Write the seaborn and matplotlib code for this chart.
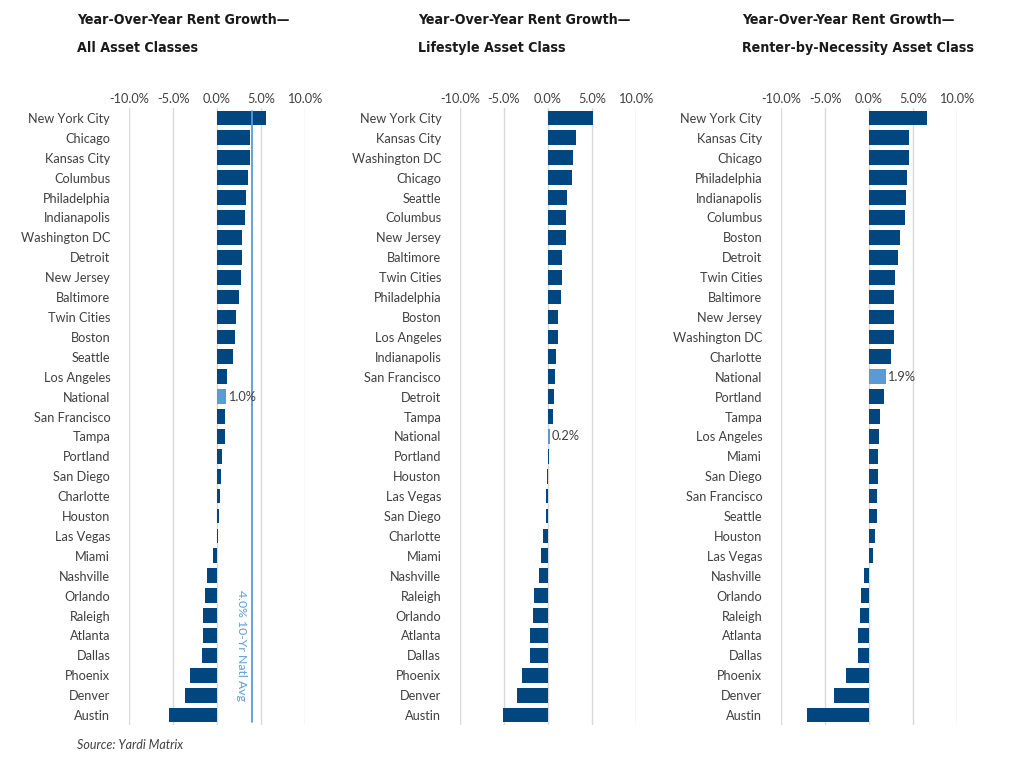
import numpy as np
import pandas as pd
import seaborn as sns
from matplotlib import pyplot as plt
from matplotlib import font_manager
from matplotlib.ticker import FuncFormatter

# ---- data (percent) ----
all_cities = ['New York City', 'Chicago', 'Kansas City', 'Columbus', 'Philadelphia',
              'Indianapolis', 'Washington DC', 'Detroit', 'New Jersey', 'Baltimore',
              'Twin Cities', 'Boston', 'Seattle', 'Los Angeles', 'National',
              'San Francisco', 'Tampa', 'Portland', 'San Diego', 'Charlotte',
              'Houston', 'Las Vegas', 'Miami', 'Nashville', 'Orlando', 'Raleigh',
              'Atlanta', 'Dallas', 'Phoenix', 'Denver', 'Austin']
all_values = [5.6, 3.8, 3.8, 3.5, 3.3, 3.2, 2.8, 2.8, 2.7, 2.5, 2.2, 2.0, 1.8, 1.1, 1.0,
              0.9, 0.9, 0.6, 0.4, 0.3, 0.2, 0.15, -0.4, -1.1, -1.4, -1.6, -1.6, -1.7,
              -3.1, -3.6, -5.5]

lifestyle_cities = ['New York City', 'Kansas City', 'Washington DC', 'Chicago', 'Seattle',
                    'Columbus', 'New Jersey', 'Baltimore', 'Twin Cities', 'Philadelphia',
                    'Boston', 'Los Angeles', 'Indianapolis', 'San Francisco', 'Detroit',
                    'Tampa', 'National', 'Portland', 'Houston', 'Las Vegas', 'San Diego',
                    'Charlotte', 'Miami', 'Nashville', 'Raleigh', 'Orlando', 'Atlanta',
                    'Dallas', 'Phoenix', 'Denver', 'Austin']
lifestyle_values = [5.1, 3.2, 2.8, 2.7, 2.2, 2.1, 2.1, 1.6, 1.6, 1.5, 1.1, 1.1, 0.9, 0.8,
                    0.7, 0.6, 0.2, 0.1, -0.1, -0.25, -0.25, -0.6, -0.8, -1.0, -1.6, -1.7,
                    -2.1, -2.1, -2.9, -3.5, -5.1]

rbn_cities = ['New York City', 'Kansas City', 'Chicago', 'Philadelphia', 'Indianapolis',
              'Columbus', 'Boston', 'Detroit', 'Twin Cities', 'Baltimore', 'New Jersey',
              'Washington DC', 'Charlotte', 'National', 'Portland', 'Tampa', 'Los Angeles',
              'Miami', 'San Diego', 'San Francisco', 'Seattle', 'Houston', 'Las Vegas',
              'Nashville', 'Orlando', 'Raleigh', 'Atlanta', 'Dallas', 'Phoenix', 'Denver',
              'Austin']
rbn_values = [6.6, 4.6, 4.5, 4.3, 4.2, 4.1, 3.5, 3.3, 3.0, 2.8, 2.8, 2.8, 2.5, 1.9, 1.7,
              1.3, 1.1, 1.0, 1.0, 0.9, 0.9, 0.7, 0.5, -0.6, -0.95, -1.05, -1.2, -1.3,
              -2.6, -4.0, -7.1]

titles = ['Year-Over-Year Rent Growth\u2014\nAll Asset Classes',
          'Year-Over-Year Rent Growth\u2014\nLifestyle Asset Class',
          'Year-Over-Year Rent Growth\u2014\nRenter-by-Necessity Asset Class']

natl_avg = 4.0

navy = '#02467F'
light = '#5B9BD5'
text_grey = '#404040'

sns.set_style('white')
plt.rcParams['font.family'] = ['Lato', 'DejaVu Sans']

# pick a narrow bold face for the titles if one is installed
fonts = font_manager.fontManager.ttflist
if any(f.name == 'Liberation Sans Narrow' for f in fonts):
    title_font = dict(family=['Liberation Sans Narrow', 'DejaVu Sans'], fontsize=11)
elif any(f.name == 'DejaVu Sans' and f.stretch == 'condensed' for f in fonts):
    title_font = dict(family=['DejaVu Sans'], fontstretch='condensed', fontsize=10.2)
else:
    title_font = dict(family=['Roboto', 'DejaVu Sans'], fontsize=9.8)

fig = plt.figure(figsize=(10.24, 7.65), dpi=100)

lefts = [129, 460, 781]
panels = [(all_cities, all_values), (lifestyle_cities, lifestyle_values), (rbn_cities, rbn_values)]
title_x = [77, 418, 742]

for i, (cities, values) in enumerate(panels):
    ax = fig.add_axes([lefts[i] / 1024, 1 - 725 / 765, 176 / 1024, 617 / 765])
    df = pd.DataFrame({'city': cities, 'growth': values})
    pal = {c: (light if c == 'National' else navy) for c in cities}
    sns.barplot(data=df, x='growth', y='city', hue='city', palette=pal, legend=False,
                orient='h', width=0.74, saturation=1, linewidth=0, ax=ax)
    ax.set_xlim(-10, 10)
    ax.set_ylim(30.5, -0.5)
    ax.set_xticks([-10, -5, 0, 5, 10])
    ax.xaxis.set_major_formatter(FuncFormatter(lambda v, p: '%.1f%%' % v))
    ax.xaxis.tick_top()
    ax.tick_params(axis='both', length=0, labelsize=9.2, labelcolor=text_grey)
    ax.tick_params(axis='x', pad=2)
    ax.tick_params(axis='y', pad=13.5)
    ax.grid(axis='x', color='#D9D9D9', linewidth=1)
    ax.set_axisbelow(True)
    for s in ax.spines.values():
        s.set_visible(False)
    ax.set_xlabel('')
    ax.set_ylabel('')

    k = cities.index('National')
    ax.text(values[k] + 0.2, k, '%.1f%%' % values[k], va='center', ha='left',
            fontsize=9.2, color=text_grey)

    if i == 0:
        ax.plot([natl_avg, natl_avg], [-0.37, 30.37], color=light, linewidth=1.3)
        ax.text(2.75, 26.5, '4.0% 10-Yr Natl Avg', rotation=-90, ha='center', va='center',
                fontsize=8.8, color=light)

    fig.text(title_x[i] / 1024, 1 - 13 / 765, titles[i], ha='left', va='top',
             fontweight='bold', color='#1A1A1A', linespacing=2.25, **title_font)

fig.text(77 / 1024, 1 - 745 / 765, 'Source: Yardi Matrix', ha='left', va='center',
         fontsize=9, style='italic', color=text_grey)

plt.savefig('out.png', dpi=100)
